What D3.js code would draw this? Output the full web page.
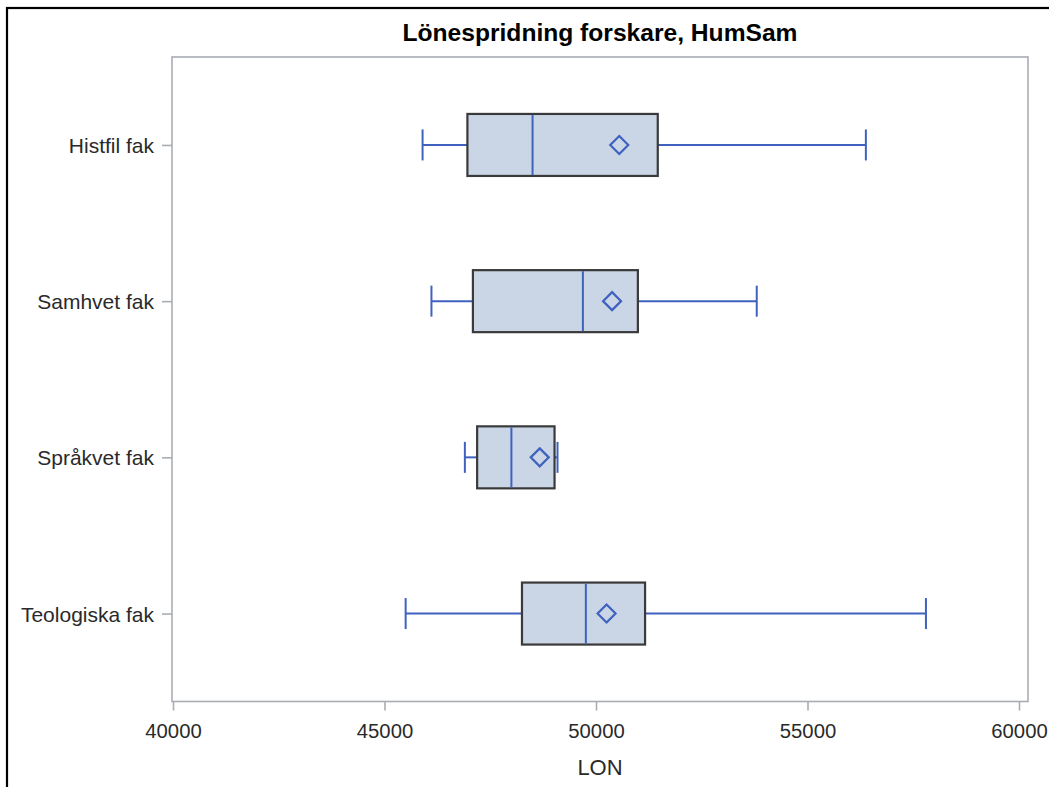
<!DOCTYPE html>
<html>
<head>
<meta charset="utf-8">
<script src="https://cdn.jsdelivr.net/npm/d3@7"></script>
<style>
  html, body { margin: 0; padding: 0; background: #fff; }
  svg { display: block; }
  text { font-family: "Liberation Sans", Arial, sans-serif; }
</style>
</head>
<body>
<svg id="chart" width="1049" height="787"></svg>
<script>
// ---- data ----
const categories  = ["Histfil fak", "Samhvet fak", "Språkvet fak", "Teologiska fak"];
const whiskerLow  = [45900, 46110, 46900, 45500];
const q1Values    = [46960, 47090, 47190, 48250];
const medians     = [48500, 49690, 48000, 49760];
const means       = [50550, 50380, 48670, 50250];
const q3Values    = [51460, 50990, 49020, 51160];
const whiskerHigh = [56380, 53800, 49090, 57800];
const xTicks      = [40000, 45000, 50000, 55000, 60000];
const titleText   = "Lönespridning forskare, HumSam";
const xLabel      = "LON";

// ---- layout ----
const W = 1049, H = 787;
const frame = { left: 172, right: 1028, top: 57, bottom: 701.5 };
const blue = "#3F62BF", boxFill = "#CAD5E5", boxStroke = "#3a3a3a", axisGray = "#A9ADB2";

const svg = d3.select("#chart");

// outer border (only top/left visible)
svg.append("rect").attr("x", 7).attr("y", 8).attr("width", 1100).attr("height", 1000)
  .attr("fill", "none").attr("stroke", "#000").attr("stroke-width", 2.2);

const x = d3.scaleLinear().domain([40000, 60000]).range([173, 1019]);
const y = d3.scalePoint().domain(categories).range([frame.top, frame.bottom]).padding(0.563);

// frame
svg.append("rect")
  .attr("x", frame.left).attr("y", frame.top)
  .attr("width", frame.right - frame.left).attr("height", frame.bottom - frame.top)
  .attr("fill", "none").attr("stroke", axisGray).attr("stroke-width", 1.6);

// x axis
const xAxis = svg.append("g").attr("transform", `translate(0,${frame.bottom})`)
  .call(d3.axisBottom(x).tickValues(xTicks).tickFormat(d3.format("d")).tickSize(9).tickPadding(13));
xAxis.select(".domain").remove();
xAxis.selectAll(".tick line").attr("stroke", axisGray).attr("stroke-width", 1.6);
xAxis.selectAll(".tick text").attr("font-size", 20.3).attr("fill", "#2a2a2a")
  .attr("font-family", "'Liberation Sans', Arial, sans-serif").attr("dy", "0.71em");

// y axis
const yAxis = svg.append("g").attr("transform", `translate(${frame.left},0)`)
  .call(d3.axisLeft(y).tickSize(10).tickPadding(8));
yAxis.select(".domain").remove();
yAxis.selectAll(".tick line").attr("stroke", axisGray).attr("stroke-width", 1.6);
yAxis.selectAll(".tick text").attr("font-size", 21).attr("fill", "#2a2a2a")
  .attr("font-family", "'Liberation Sans', Arial, sans-serif").attr("dy", "0.36em");

// boxes
const rows = categories.map((c, i) => ({
  c, lo: whiskerLow[i], q1: q1Values[i], med: medians[i], mean: means[i], q3: q3Values[i], hi: whiskerHigh[i]
}));
const boxHalf = 31, capHalf = 15.5, dHalf = 9;

const g = svg.append("g");
rows.forEach(r => {
  const cy = y(r.c);
  // whiskers
  g.append("line").attr("x1", x(r.lo)).attr("x2", x(r.q1)).attr("y1", cy).attr("y2", cy)
    .attr("stroke", blue).attr("stroke-width", 2);
  g.append("line").attr("x1", x(r.q3)).attr("x2", x(r.hi)).attr("y1", cy).attr("y2", cy)
    .attr("stroke", blue).attr("stroke-width", 2);
  g.append("line").attr("x1", x(r.lo)).attr("x2", x(r.lo)).attr("y1", cy - capHalf).attr("y2", cy + capHalf)
    .attr("stroke", blue).attr("stroke-width", 2);
  g.append("line").attr("x1", x(r.hi)).attr("x2", x(r.hi)).attr("y1", cy - capHalf).attr("y2", cy + capHalf)
    .attr("stroke", blue).attr("stroke-width", 2);
  // box
  g.append("rect").attr("x", x(r.q1)).attr("y", cy - boxHalf)
    .attr("width", x(r.q3) - x(r.q1)).attr("height", 2 * boxHalf)
    .attr("fill", boxFill).attr("stroke", boxStroke).attr("stroke-width", 2.2);
  // median
  g.append("line").attr("x1", x(r.med)).attr("x2", x(r.med)).attr("y1", cy - boxHalf + 1).attr("y2", cy + boxHalf - 1)
    .attr("stroke", blue).attr("stroke-width", 2);
  // mean diamond
  const mx = x(r.mean);
  g.append("path")
    .attr("d", `M${mx},${cy - dHalf}L${mx + dHalf},${cy}L${mx},${cy + dHalf}L${mx - dHalf},${cy}Z`)
    .attr("fill", "none").attr("stroke", blue).attr("stroke-width", 2.2);
});

// title
svg.append("text").attr("x", (frame.left + frame.right) / 2).attr("y", 41)
  .attr("text-anchor", "middle").attr("font-size", 24.6).attr("font-weight", "bold").attr("fill", "#000")
  .text(titleText);

// x label
svg.append("text").attr("x", (frame.left + frame.right) / 2).attr("y", 775)
  .attr("text-anchor", "middle").attr("font-size", 22).attr("fill", "#2a2a2a")
  .text(xLabel);
</script>
</body>
</html>
